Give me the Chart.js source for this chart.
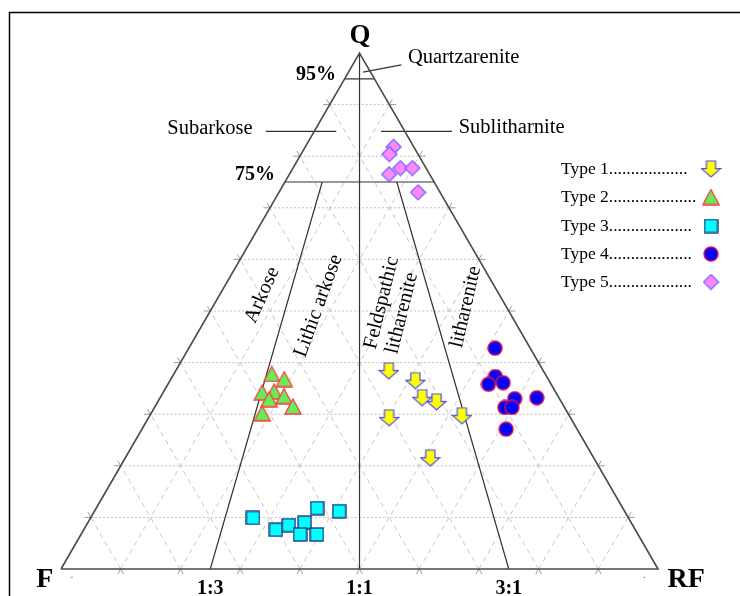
<!DOCTYPE html>
<html><head><meta charset="utf-8">
<script src="https://cdn.jsdelivr.net/npm/chart.js@4.4.0/dist/chart.umd.min.js"></script>
<style>html,body{margin:0;padding:0;background:#fff}#wrap{width:740px;height:596px;position:relative}canvas{display:block}</style>
</head><body><div id="wrap"><canvas id="c" width="740" height="596"></canvas></div>
<script>
// ---- Data (ternary compositions, %) ----
const type1Q  = [38.4, 36.5, 33.2, 32.4, 29.3, 29.7, 21.5];
const type1F  = [25.9, 22.4, 22.9, 20.9, 30.4, 18.0, 27.4];
const type1RF = [35.7, 41.1, 43.9, 46.7, 40.3, 52.3, 51.1];

const type2Q  = [37.8, 36.8, 34.2, 34.4, 32.9, 33.5, 31.5, 30.2];
const type2F  = [45.8, 44.2, 49.2, 47.1, 48.7, 45.9, 45.4, 51.2];
const type2RF = [16.4, 19.0, 16.6, 18.5, 18.4, 20.6, 23.1, 18.6];

const type3Q  = [9.9, 11.8, 11.2, 7.6, 8.5, 9.0, 6.7, 6.7];
const type3F  = [62.9, 51.2, 47.8, 60.2, 57.6, 54.7, 56.6, 53.8];
const type3RF = [27.2, 37.0, 41.0, 32.2, 33.9, 36.3, 36.7, 39.5];

const type4Q  = [42.8, 37.3, 35.8, 36.1, 33.0, 33.2, 31.3, 31.3, 27.1];
const type4F  = [5.9, 8.6, 10.5, 7.9, 7.5, 3.7, 10.0, 8.8, 11.9];
const type4RF = [51.3, 54.1, 53.7, 56.0, 59.5, 63.1, 58.7, 59.9, 61.0];

const type5Q  = [81.8, 80.4, 77.7, 77.7, 76.5, 73.0];
const type5F  = [3.4, 4.8, 4.3, 2.3, 6.8, 3.7];
const type5RF = [14.8, 14.8, 18.0, 20.0, 16.7, 23.3];

const seriesNames = ['Type 1', 'Type 2', 'Type 3', 'Type 4', 'Type 5'];
const legendDots  = ['..................', '....................', '...................', '...................', '...................'];
const gridSteps   = [10, 20, 30, 40, 50, 60, 70, 80, 90];
const qLevels     = [95, 75];          // classification Q limits
const ratioTicks  = ['1:3', '1:1', '3:1'];
const ratioValues = [0.25, 0.5, 0.75]; // RF/(F+RF)

// ---- ternary -> cartesian (x: 0..100 along F-RF base, y: Q %) ----
function tern(q, f, rf) {
  const s = q + f + rf;
  q = q / s * 100; rf = rf / s * 100;
  return { x: rf + q / 2, y: q };
}
function pts(Q, F, RF) { return Q.map((q, i) => tern(q, F[i], RF[i])); }

// ---- marker images ----
function mk(w, h, draw) {
  const c = document.createElement('canvas');
  c.width = w; c.height = h;
  const g = c.getContext('2d');
  draw(g, w, h);
  return c;
}
const arrowImg = mk(21, 18, (g, w, h) => {
  const l = 1, r = w - 1, t = 1, b = h - 1, cx = w / 2;
  const sw = 4.6, hy = t + (b - t) * 0.48;
  g.beginPath();
  g.moveTo(cx - sw, t); g.lineTo(cx + sw, t); g.lineTo(cx + sw, hy);
  g.lineTo(r, hy); g.lineTo(cx, b); g.lineTo(l, hy); g.lineTo(cx - sw, hy);
  g.closePath();
  g.fillStyle = '#ffff00'; g.fill();
  g.lineWidth = 1.2; g.strokeStyle = '#4b4bff'; g.stroke();
});
const triImg = mk(18, 17, (g, w, h) => {
  g.beginPath(); g.moveTo(w / 2, 1); g.lineTo(w - 1, h - 1); g.lineTo(1, h - 1); g.closePath();
  g.fillStyle = '#66ee5a'; g.fill();
  g.lineWidth = 1.3; g.strokeStyle = '#ff3b3b'; g.stroke();
});
const sqImg = mk(15, 15, (g, w, h) => {
  g.fillStyle = '#00ffff'; g.fillRect(1, 1, w - 2, h - 2);
  g.lineWidth = 1.4; g.strokeStyle = '#1f3a80'; g.strokeRect(1, 1, w - 2, h - 2);
});
const cirImg = mk(16, 16, (g, w, h) => {
  g.beginPath(); g.arc(w / 2, h / 2, w / 2 - 1, 0, Math.PI * 2);
  g.fillStyle = '#0000ff'; g.fill();
  g.lineWidth = 1.4; g.strokeStyle = '#e0104a'; g.stroke();
});
const diaImg = mk(17, 17, (g, w, h) => {
  g.beginPath(); g.moveTo(w / 2, 1); g.lineTo(w - 1, h / 2); g.lineTo(w / 2, h - 1); g.lineTo(1, h / 2); g.closePath();
  g.fillStyle = '#ff88ff'; g.fill();
  g.lineWidth = 1.2; g.strokeStyle = '#7060ff'; g.stroke();
});
const markerImgs = [arrowImg, triImg, sqImg, cirImg, diaImg];

// ---- grid lines (dashed) and ticks ----
const EXT = 1.1;
function seg(a, b) { return [a, b, { x: null, y: null }]; }
function extend(a, b, d) {
  const dx = b.x - a.x, dy = b.y - a.y; const L = Math.hypot(dx, dy);
  return { x: a.x + dx / L * d, y: a.y + dy / L * d };
}
let gridH = [], gridD = [], ticks = [];
gridSteps.forEach(v => {
  // constant Q
  const a = tern(v, 100 - v, 0), b = tern(v, 0, 100 - v);
  gridH.push(...seg(a, b));
  ticks.push(...seg(a, extend(a, b, -EXT)), ...seg(b, extend(b, a, -EXT)));
  // constant RF
  const c = tern(0, 100 - v, v), d = tern(100 - v, 0, v);
  gridD.push(...seg(c, d));
  ticks.push(...seg(c, extend(c, d, -EXT)), ...seg(d, extend(d, c, -EXT)));
  // constant F
  const e = tern(0, v, 100 - v), f = tern(100 - v, v, 0);
  gridD.push(...seg(e, f));
  ticks.push(...seg(e, extend(e, f, -EXT)), ...seg(f, extend(f, e, -EXT)));
});
ticks.push(...seg({ x: 1.6, y: -1.6 }, { x: 2.0, y: -1.6 }), ...seg({ x: 97.5, y: -1.6 }, { x: 97.9, y: -1.6 }));

// ---- classification lines ----
const Qv = tern(100, 0, 0), Fv = tern(0, 100, 0), Rv = tern(0, 0, 100);
const outline = [Fv, Rv, Qv, Fv];
let classLines = [];
qLevels.forEach(q => { classLines.push(...seg(tern(q, 100 - q, 0), tern(q, 0, 100 - q))); });
ratioValues.forEach(r => {
  const top = r === 0.5 ? Qv : tern(75, 25 * (1 - r), 25 * r);
  classLines.push(...seg(top, tern(0, 100 * (1 - r), 100 * r)));
});
// leader lines for labels
const leaders = [
  ...seg({ x: 50.6, y: 96.3 }, { x: 57.0, y: 97.7 }),
  ...seg({ x: 34.3, y: 84.8 }, { x: 46.1, y: 84.8 }),
  ...seg({ x: 53.6, y: 84.8 }, { x: 65.5, y: 84.8 })
];

const lineDs = (data, color, width, dash) => ({
  type: 'scatter', data, showLine: true, spanGaps: false, borderColor: color, borderWidth: width,
  borderDash: dash || [], pointRadius: 0, pointHoverRadius: 0, fill: false, clip: false, order: 10
});
const markDs = (data, img) => ({
  type: 'scatter', data, pointStyle: img, pointRadius: 8, pointHoverRadius: 8, showLine: false, clip: false, order: 0
});

const serif = '"Liberation Serif", "Times New Roman", serif';
const labels = [
  { t: 'Q', x: 50.1, y: 103.3, f: 'bold 27px', a: 'center' },
  { t: 'Quartzarenite', x: 58.1, y: 99.2, f: '20.5px', a: 'left' },
  { t: '95%', x: 42.7, y: 95.7, f: 'bold 20px', a: 'center' },
  { t: 'Subarkose', x: 32.1, y: 85.3, f: '20.5px', a: 'right' },
  { t: 'Sublitharnite', x: 66.6, y: 85.5, f: '20.5px', a: 'left' },
  { t: '75%', x: 32.5, y: 76.4, f: 'bold 20px', a: 'center' },
  { t: 'Arkose', x: 33.7, y: 53.1, f: '20.5px', a: 'center', r: -66 },
  { t: 'Lithic arkose', x: 43.1, y: 51.0, f: '20.5px', a: 'center', r: -70 },
  { t: 'Feldspathic', x: 53.7, y: 51.6, f: '20.5px', a: 'center', r: -76 },
  { t: 'litharenite', x: 57.1, y: 49.6, f: '20.5px', a: 'center', r: -76 },
  { t: 'litharenite', x: 67.8, y: 50.8, f: '20.5px', a: 'center', r: -77 },
  { t: 'F', x: -2.7, y: -2.1, f: 'bold 28px', a: 'center' },
  { t: 'RF', x: 104.7, y: -2.1, f: 'bold 28px', a: 'center' }
];
ratioTicks.forEach((t, i) => labels.push({ t, x: ratioValues[i] * 100, y: -3.8, f: 'bold 20px', a: 'center' }));

const decor = {
  id: 'decor',
  afterDraw(chart) {
    const ctx = chart.ctx, xs = chart.scales.x, ys = chart.scales.y;
    ctx.save();
    // frame
    ctx.strokeStyle = '#000'; ctx.lineWidth = 1.5;
    ctx.beginPath(); ctx.moveTo(9.5, 596); ctx.lineTo(9.5, 12.5); ctx.lineTo(740, 12.5); ctx.stroke();
    ctx.fillStyle = '#000'; ctx.textBaseline = 'middle';
    labels.forEach(l => {
      ctx.save();
      ctx.translate(xs.getPixelForValue(l.x), ys.getPixelForValue(l.y));
      if (l.r) ctx.rotate(l.r * Math.PI / 180);
      ctx.font = l.f + ' ' + serif; ctx.textAlign = l.a;
      ctx.fillText(l.t, 0, 0);
      ctx.restore();
    });
    // legend
    ctx.font = '17.5px ' + serif; ctx.textAlign = 'left';
    const ly = [169, 197, 226, 254, 282];
    seriesNames.forEach((n, i) => {
      ctx.fillText(n + legendDots[i], 561, ly[i]);
      const im = markerImgs[i];
      ctx.drawImage(im, 711 - im.width / 2, ly[i] - im.height / 2);
    });
    ctx.restore();
  }
};

new Chart(document.getElementById('c'), {
  type: 'scatter',
  data: {
    datasets: [
      markDs(pts(type1Q, type1F, type1RF), arrowImg),
      markDs(pts(type2Q, type2F, type2RF), triImg),
      markDs(pts(type3Q, type3F, type3RF), sqImg),
      markDs(pts(type4Q, type4F, type4RF), cirImg),
      markDs(pts(type5Q, type5F, type5RF), diaImg),
      lineDs(outline, '#4a4a4a', 1.6),
      lineDs(classLines, '#333333', 1.2),
      lineDs(leaders, '#333333', 1.2),
      lineDs(ticks, '#9a9a9a', 1),
      lineDs(gridD, '#c8c8c8', 1, [5, 4]),
      lineDs(gridH, '#c0c0c0', 1, [2, 2])
    ]
  },
  options: {
    responsive: false, animation: false, events: [],
    layout: { padding: 0, autoPadding: false },
    plugins: { legend: { display: false }, tooltip: { enabled: false } },
    scales: {
      x: { type: 'linear', min: -10.22, max: 113.73, display: false },
      y: { type: 'linear', min: -5.23, max: 110.27, display: false }
    }
  },
  plugins: [decor]
});
</script>
</body></html>
